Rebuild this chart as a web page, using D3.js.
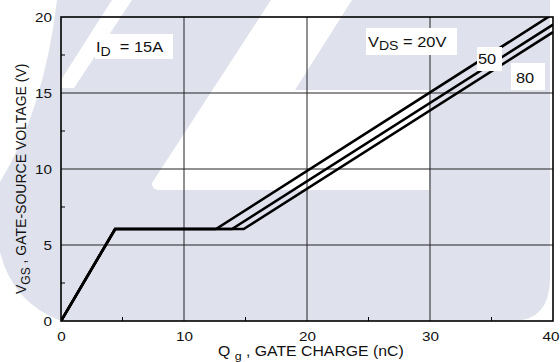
<!DOCTYPE html>
<html>
<head>
<meta charset="utf-8">
<script src="https://cdn.jsdelivr.net/npm/d3@7"></script>
<style>
  html, body { margin: 0; padding: 0; background: #fff; }
  svg { display: block; font-family: "Liberation Sans", Arial, sans-serif; }
</style>
</head>
<body>
<svg id="chart" width="560" height="362"></svg>
<script>
// Gate charge curves, I_D = 15 A, for three drain-source voltages
const vdsLabels = ["20", "50", "80"];
// common turn-on ramp: Qg (nC), VGS (V)
const rampQ = [0, 4.4];
const rampV = [0, 6.05];
// end of the Miller plateau per curve (nC)
const plateauEndQ = [12.6, 13.9, 14.85];
// VGS reached at Qg = 40 nC per curve
const endQ = [40, 40, 40];
const endV = [20.2, 19.5, 19.0];

const xTicks = [0, 10, 20, 30, 40];
const yTicks = [0, 5, 10, 15, 20];
const xMinor = [5, 15, 25, 35];
const yMinor = [2.5, 7.5, 12.5, 17.5];

const svg = d3.select("#chart");
const margin = { left: 61, right: 7, top: 17, bottom: 41 };
const W = 560, H = 362;
// horizontal text is set slightly wide
const WIDEN = 1.13;

const x = d3.scaleLinear().domain([0, 40]).range([margin.left, W - margin.right]);
const y = d3.scaleLinear().domain([0, 20]).range([H - margin.bottom, margin.top]);

// faint background logo
const wm = svg.append("g").attr("fill", "#dfe2ec");
wm.append("path").attr("d",
  "M57,0 L550,0 L550,278 Q550,321 512,321 L61,321 Q12,302 0,252 L0,182 Q44,110 57,0 Z");
const wmCut = svg.append("g").attr("fill", "#fff");
wmCut.append("path").attr("d",
  "M271,0 L352,0 L295,90 L429,90 L429,190 L159,190 Q152,190 152,183 Z");
wmCut.append("path").attr("d", "M112,0 L132,0 L74,88 L61,88 L61,80 Z");

// gridlines
const grid = svg.append("g").attr("stroke", "#222").attr("stroke-width", 1);
grid.selectAll("line.v").data(xTicks.slice(1, -1)).join("line")
  .attr("x1", d => x(d)).attr("x2", d => x(d))
  .attr("y1", y(0)).attr("y2", y(20));
grid.selectAll("line.h").data(yTicks.slice(1, -1)).join("line")
  .attr("y1", d => y(d)).attr("y2", d => y(d))
  .attr("x1", x(0)).attr("x2", x(40));

// minor inside ticks
const minor = svg.append("g").attr("stroke", "#000").attr("stroke-width", 1);
minor.selectAll("line.xm").data(xMinor).join("line")
  .attr("x1", d => x(d)).attr("x2", d => x(d))
  .attr("y1", y(0)).attr("y2", y(0) - 4);
minor.selectAll("line.ym").data(yMinor).join("line")
  .attr("y1", d => y(d)).attr("y2", d => y(d))
  .attr("x1", x(0)).attr("x2", x(0) + 4);

// axes (labels only, ticks drawn as grid)
const xAxis = svg.append("g").attr("transform", `translate(0,${y(0)})`)
  .call(d3.axisBottom(x).tickValues(xTicks).tickSize(0).tickPadding(10));
const yAxis = svg.append("g").attr("transform", `translate(${x(0)},0)`)
  .call(d3.axisLeft(y).tickValues(yTicks).tickSize(0).tickPadding(9));
[xAxis, yAxis].forEach(a => {
  a.select(".domain").remove();
  a.selectAll("text").attr("font-size", 13.5).attr("fill", "#111").classed("wide", true)
    .attr("font-family", "'Liberation Sans', Arial, sans-serif");
});
// keep the last x label inside the page
xAxis.selectAll(".tick").filter(d => d === 40).select("text")
  .attr("text-anchor", "end").attr("dx", 6);

// curves
const curves = vdsLabels.map((lab, i) => ({
  label: lab,
  pts: [[rampQ[0], rampV[0]], [rampQ[1], rampV[1]], [plateauEndQ[i], rampV[1]], [endQ[i], endV[i]]]
}));
svg.append("clipPath").attr("id", "plot-clip").append("rect")
  .attr("x", x(0)).attr("y", y(20)).attr("width", x(40) - x(0)).attr("height", y(0) - y(20));
const line = d3.line().x(d => x(d[0])).y(d => y(d[1]));
svg.append("g").attr("clip-path", "url(#plot-clip)")
  .selectAll("path").data(curves).join("path")
  .attr("d", d => line(d.pts))
  .attr("fill", "none").attr("stroke", "#000").attr("stroke-width", 2.6)
  .attr("stroke-linejoin", "miter");

// frame
svg.append("rect").attr("x", x(0)).attr("y", y(20))
  .attr("width", x(40) - x(0)).attr("height", y(0) - y(20))
  .attr("fill", "none").attr("stroke", "#000").attr("stroke-width", 1.6);

// annotations sitting on white boxes
const boxes = svg.append("g").attr("fill", "#fff");
const ann = svg.append("g").attr("font-size", 14.5).attr("fill", "#111");
function box(x0, y0, w, h) {
  boxes.append("rect").attr("x", x0).attr("y", y0).attr("width", w).attr("height", h);
}

box(95, 34, 78, 25);
const tId = ann.append("text").attr("x", 96).attr("y", 52).attr("xml:space", "preserve").classed("wide", true);
tId.append("tspan").text("I");
tId.append("tspan").attr("font-size", 12.5).attr("dy", 4).text("D");
tId.append("tspan").attr("dy", -4).text("  = 15A");

box(366, 28, 91, 27);
const tVds = ann.append("text").attr("x", 368).attr("y", 47).classed("wide", true);
tVds.append("tspan").text("V");
tVds.append("tspan").attr("font-size", 12.5).attr("dy", 3).text("DS");
tVds.append("tspan").attr("dy", -3).text(" = " + vdsLabels[0] + "V");

box(477, 47, 25, 24);
ann.append("text").attr("x", 478).attr("y", 64).text(vdsLabels[1]).classed("wide", true);
box(511, 63, 34, 27);
ann.append("text").attr("x", 516).attr("y", 83).text(vdsLabels[2]).classed("wide", true);

// axis titles
const tx = svg.append("text").attr("x", 218).attr("y", 356).attr("font-size", 14).attr("fill", "#111")
  .attr("xml:space", "preserve").classed("wide", true);
tx.append("tspan").text("Q ");
tx.append("tspan").attr("font-size", 11).attr("dy", 4).text("g");
tx.append("tspan").attr("dy", -4).text(" , GATE CHARGE (nC)");

const ty = svg.append("text").attr("transform", "translate(26,294) rotate(-90)")
  .attr("font-size", 14).attr("fill", "#111");
ty.append("tspan").text("V");
ty.append("tspan").attr("font-size", 12).attr("dy", 4).text("GS");
ty.append("tspan").attr("dy", -4).text(" , GATE-SOURCE VOLTAGE (V)");

// widen horizontal labels around their anchor
svg.selectAll("text.wide").each(function () {
  const el = d3.select(this);
  const bb = this.getBBox();
  const anchor = getComputedStyle(this).textAnchor || el.attr("text-anchor") || "start";
  const ax = anchor === "middle" ? bb.x + bb.width / 2 : anchor === "end" ? bb.x + bb.width : bb.x;
  const prev = el.attr("transform") || "";
  el.attr("transform", `${prev} translate(${ax},0) scale(${WIDEN},1) translate(${-ax},0)`);
});
</script>
</body>
</html>
